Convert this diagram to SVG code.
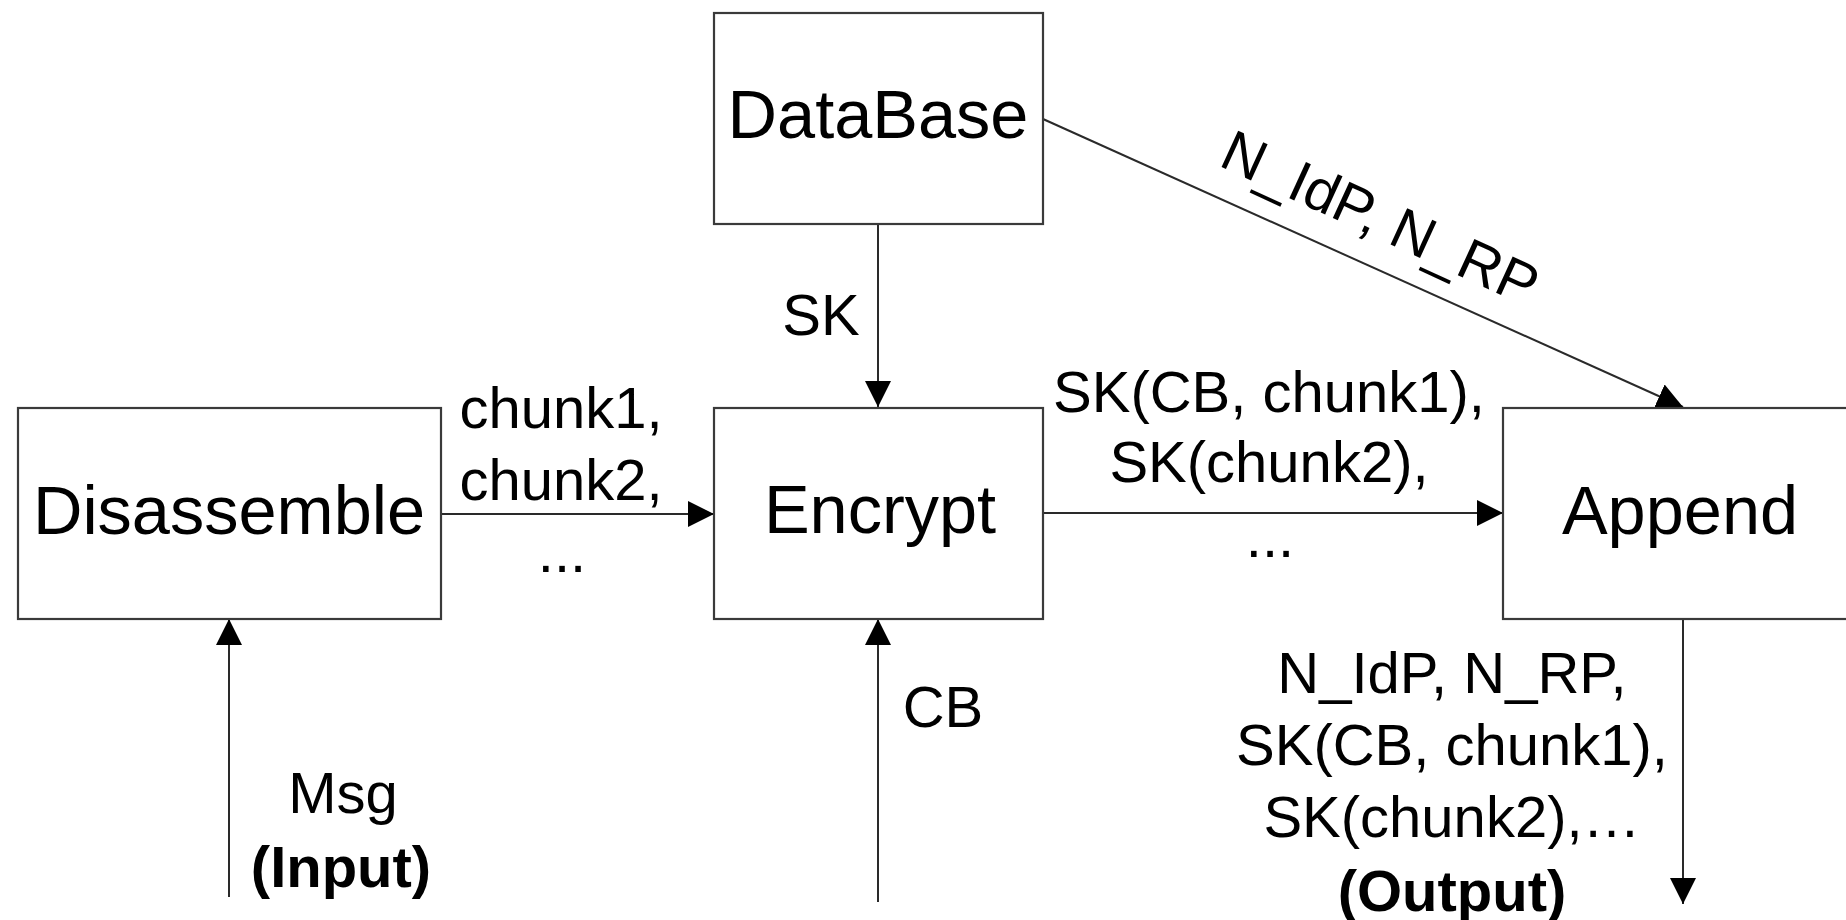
<svg xmlns="http://www.w3.org/2000/svg" width="1846" height="920" viewBox="0 0 1846 920">
  <style>
    .box { fill: #ffffff; stroke: #3a3a3a; stroke-width: 2.2; }
    .node { font-family: "Liberation Sans", Arial, Helvetica, sans-serif; font-size: 68.5px; fill: #000; text-anchor: middle; }
    .lbl { font-family: "Liberation Sans", Arial, Helvetica, sans-serif; font-size: 58px; fill: #000; text-anchor: middle; }
    .bold { font-weight: bold; }
    .edge { fill: none; stroke: #2a2a2a; stroke-width: 2; }
  </style>
  <defs>
    <marker id="arrow" markerUnits="userSpaceOnUse" markerWidth="27" markerHeight="27" refX="26" refY="13" orient="auto">
      <path d="M0,0 L26,13 L0,26 z" fill="#000"/>
    </marker>
  </defs>
  <rect width="1846" height="920" fill="#ffffff"/>

  <!-- connectors -->
  <g id="connectors">
    <line class="edge" x1="441" y1="514" x2="714" y2="514" marker-end="url(#arrow)"/>
    <line class="edge" x1="1043" y1="513" x2="1503" y2="513" marker-end="url(#arrow)"/>
    <line class="edge" x1="878" y1="224" x2="878" y2="407" marker-end="url(#arrow)"/>
    <line class="edge" x1="1043" y1="119" x2="1683" y2="407" marker-end="url(#arrow)"/>
    <line class="edge" x1="1683" y1="619" x2="1683" y2="904" marker-end="url(#arrow)"/>
    <line class="edge" x1="229" y1="897" x2="229" y2="619" marker-end="url(#arrow)"/>
    <line class="edge" x1="878" y1="902" x2="878" y2="619" marker-end="url(#arrow)"/>

    <!-- connector labels -->
    <text class="lbl" x="561" y="428">chunk1,</text>
    <text class="lbl" x="561" y="500">chunk2,</text>
    <text class="lbl" x="562" y="572">...</text>

    <text class="lbl" x="1269" y="412">SK(CB, chunk1),</text>
    <text class="lbl" x="1269" y="482">SK(chunk2),</text>
    <text class="lbl" x="1270" y="557">...</text>

    <text class="lbl" x="821" y="335">SK</text>

    <text class="lbl" transform="translate(1372,236) rotate(24.6)" x="0" y="0">N_IdP, N_RP</text>

    <text class="lbl" x="943" y="727">CB</text>

    <text class="lbl" x="343" y="813">Msg</text>
    <text class="lbl bold" x="341" y="887">(Input)</text>

    <text class="lbl" x="1452" y="693">N_IdP, N_RP,</text>
    <text class="lbl" x="1452" y="765">SK(CB, chunk1),</text>
    <text class="lbl" x="1452" y="837">SK(chunk2),…</text>
    <text class="lbl bold" x="1452" y="911">(Output)</text>
  </g>

  <!-- nodes -->
  <g id="database">
    <rect class="box" x="714" y="13" width="329" height="211"/>
    <text class="node" x="878" y="138">DataBase</text>
  </g>
  <g id="disassemble">
    <rect class="box" x="18" y="408" width="423" height="211"/>
    <text class="node" x="229" y="534">Disassemble</text>
  </g>
  <g id="encrypt">
    <rect class="box" x="714" y="408" width="329" height="211"/>
    <text class="node" x="880" y="533">Encrypt</text>
  </g>
  <g id="append">
    <rect class="box" x="1503" y="408" width="380" height="211"/>
    <text class="node" x="1680" y="534">Append</text>
  </g>
</svg>
